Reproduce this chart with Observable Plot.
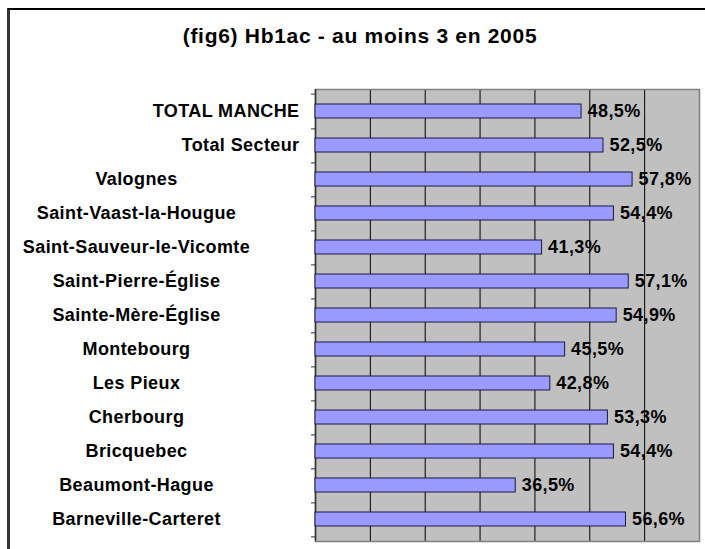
<!DOCTYPE html>
<html>
<head>
<meta charset="utf-8">
<script src="https://cdn.jsdelivr.net/npm/d3@7"></script>
<script src="https://cdn.jsdelivr.net/npm/@observablehq/plot@0.6"></script>
<style>
  html, body { margin: 0; padding: 0; background: #fff; overflow: hidden; }
  #wrap { position: relative; width: 705px; height: 549px; font-family: "Liberation Sans", Arial, sans-serif; }
  #border { position: absolute; left: 7px; top: 8px; width: 760px; height: 600px; border-left: 3px solid #333; border-top: 2px solid #000; box-sizing: border-box; }
  #title { position: absolute; left: 0; top: 24px; width: 720px; text-align: center; font-weight: bold; font-size: 21px; line-height: 24px; letter-spacing: 0.7px; color: #000; }
  #chart { position: absolute; left: 0; top: 60px; }
</style>
</head>
<body>
<div id="wrap">
  <div id="border"></div>
  <div id="title">(fig6) Hb1ac - au moins 3 en 2005</div>
  <div id="chart"></div>
</div>
<script>
const categories = ["TOTAL MANCHE", "Total Secteur", "Valognes", "Saint-Vaast-la-Hougue", "Saint-Sauveur-le-Vicomte", "Saint-Pierre-Église", "Sainte-Mère-Église", "Montebourg", "Les Pieux", "Cherbourg", "Bricquebec", "Beaumont-Hague", "Barneville-Carteret"];
const values = [48.5, 52.5, 57.8, 54.4, 41.3, 57.1, 54.9, 45.5, 42.8, 53.3, 54.4, 36.5, 56.6];
const totals = ["TOTAL MANCHE", "Total Secteur"];
const xDomain = [0, 70];
const gridTicks = [10, 20, 30, 40, 50, 60];

const data = categories.map((c, i) => ({category: c, value: values[i], label: values[i].toFixed(1).replace(".", ",") + "%"}));
const others = categories.filter(c => !totals.includes(c));

const W = 705, H = 489, mTop = 29, mBottom = 8, mLeft = 315, mRight = 6;
const step = (H - mTop - mBottom) / categories.length;

const chart = Plot.plot({
  width: W,
  height: H,
  marginTop: mTop,
  marginBottom: mBottom,
  marginLeft: mLeft,
  marginRight: mRight,
  style: {fontFamily: "'Liberation Sans', Arial, sans-serif", background: "transparent", overflow: "visible"},
  x: {domain: xDomain, axis: null},
  y: {domain: categories, paddingInner: 0.6, paddingOuter: 0.3, label: null},
  marks: [
    Plot.frame({fill: "#C0C0C0", stroke: null}),
    Plot.ruleX(gridTicks, {stroke: "#000", strokeWidth: 1}),
    Plot.frame({stroke: "#808080", strokeWidth: 1.5}),
    Plot.ruleX([0], {stroke: "#333", strokeWidth: 1.5}),
    Plot.barX(data, {y: "category", x: "value", fill: "#9999FF", stroke: "#1a1a40", strokeWidth: 1}),
    Plot.text(data, {y: "category", x: "value", text: "label", textAnchor: "start", dx: 6, fontSize: 18, fontWeight: "bold", fill: "#000"}),
    Plot.axisY(categories, {anchor: "left", tickSize: 4, tickFormat: () => "", dy: step / 2, stroke: "#333", label: null}),
    Plot.axisY([categories[0]], {anchor: "left", tickSize: 4, tickFormat: () => "", dy: -step / 2, stroke: "#333", label: null}),
    Plot.axisY(totals, {anchor: "left", tickSize: 0, tickPadding: 16, textAnchor: "end", fontSize: 18, fontWeight: "bold", fill: "#000", label: null}),
    Plot.axisY(others, {anchor: "left", tickSize: 0, tickPadding: 179, textAnchor: "middle", fontSize: 18, fontWeight: "bold", fill: "#000", label: null})
  ]
});
chart.querySelectorAll("text").forEach(t => t.style.letterSpacing = "0.4px");
document.getElementById("chart").appendChild(chart);
</script>
</body>
</html>
